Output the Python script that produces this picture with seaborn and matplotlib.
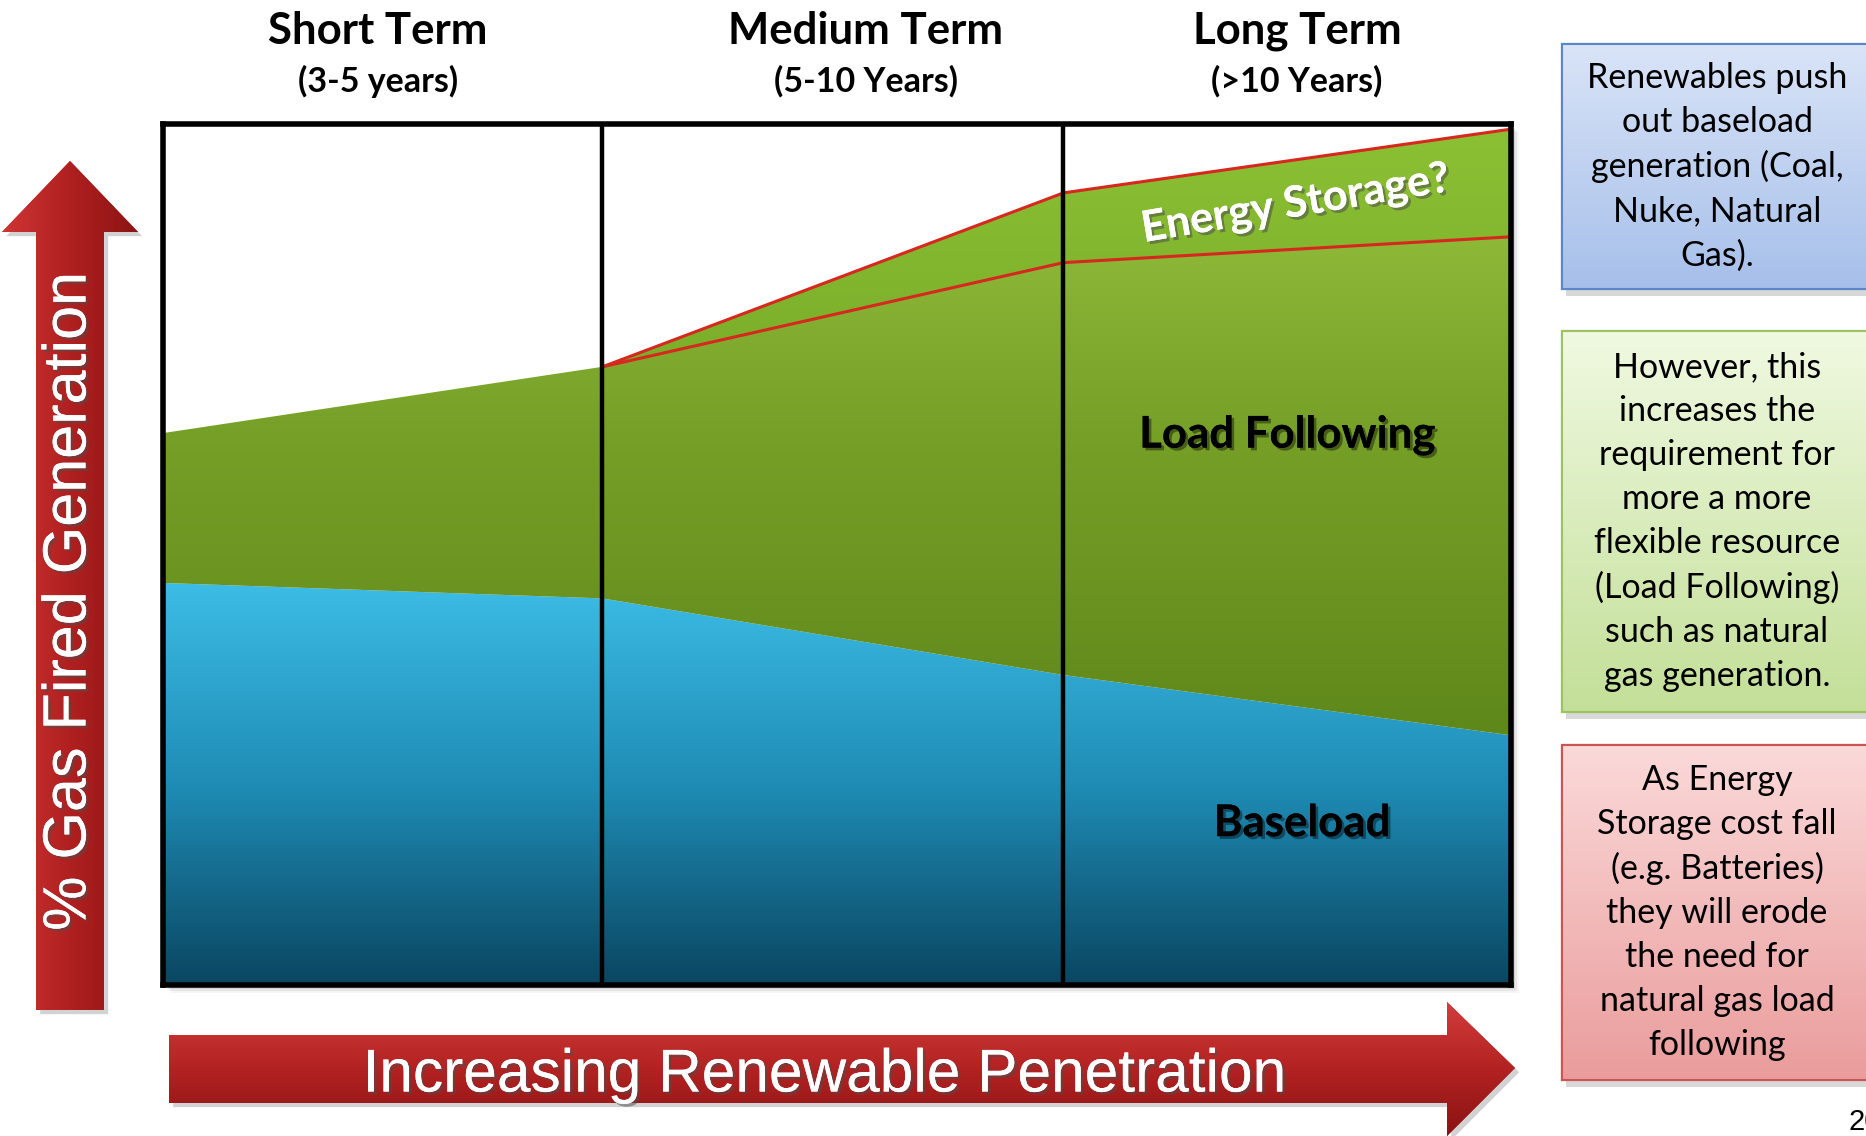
import numpy as np
import pandas as pd
import matplotlib
matplotlib.use("Agg")
import matplotlib.pyplot as plt
import seaborn as sns
from matplotlib.colors import LinearSegmentedColormap
from matplotlib.patches import Polygon, Rectangle
import matplotlib.patheffects as pe

# ---------------------------------------------------------------- data
# renewable penetration index at the stage boundaries (0 = today, 100 = long term)
penetration = [0, 32.6, 66.8, 100]
# upper edge of each band, as % of gas-fired generation
baseload = [46.7, 44.9, 36.0, 29.0]
load_following = [64.1, 71.8, 83.9, 86.9]
energy_storage = [64.1, 71.8, 92.0, 99.4]

stage_titles = ["Short Term", "Medium Term", "Long Term"]
stage_spans = ["(3-5 years)", "(5-10 Years)", "(>10 Years)"]

band_labels = ["Baseload", "Load Following", "Energy Storage?"]

note_texts = [
    "Renewables push\nout baseload\ngeneration (Coal,\nNuke, Natural\nGas).",
    "However, this\nincreases the\nrequirement for\nmore a more\nflexible resource\n(Load Following)\nsuch as natural\ngas generation.",
    "As Energy\nStorage cost fall\n(e.g. Batteries)\nthey will erode\nthe need for\nnatural gas load\nfollowing",
]
y_axis_label = "% Gas Fired Generation"
x_axis_label = "Increasing Renewable Penetration"
page_number = "20"

# ---------------------------------------------------------------- style
sns.set_theme(style="white")
plt.rcParams["font.family"] = ["Lato", "DejaVu Sans"]

W, H = 1866, 1136
fig = plt.figure(figsize=(W / 100, H / 100), dpi=100)
fig.patch.set_facecolor("white")

# overlay in pixel units for arrows, headers and side notes
ov = fig.add_axes([0, 0, 1, 1], zorder=0)
ov.set_axis_off()


def cmap_of(colors):
    return LinearSegmentedColormap.from_list("g", colors)


def gradient_in_patch(axo, patch, colors, extent, horizontal=False, z=1):
    axo.add_patch(patch)
    g = np.linspace(0, 1, 256)
    arr = g.reshape(1, -1) if horizontal else g.reshape(-1, 1)
    im = axo.imshow(arr, cmap=cmap_of(colors), extent=extent, aspect="auto",
                    origin="lower", interpolation="bicubic", zorder=z + 0.1)
    im.set_clip_path(patch)
    return im


# chart frame placement (pixels)
L, R, T, B = 163, 1511, 124, 985

# soft shadow behind the chart frame
for i, a in enumerate([0.10, 0.08, 0.06, 0.04]):
    d = 2 + i * 2
    ov.add_patch(Rectangle((L + d, T + d), R - L, B - T, facecolor="black",
                           alpha=a, lw=0, zorder=0.2))

# left arrow: % gas fired generation
cx = 70
left_arrow = Polygon([(cx, 161), (cx + 68, 232), (cx + 34, 232), (cx + 34, 1010),
                      (cx - 34, 1010), (cx - 34, 232), (cx - 68, 232)],
                     closed=True, facecolor="#a81c1c", edgecolor="none", zorder=1,
                     path_effects=[pe.withSimplePatchShadow(offset=(3, -3), alpha=0.35,
                                                            shadow_rgbFace="gray")])
gradient_in_patch(ov, left_arrow, ["#cf3535", "#b02020", "#8c1414"],
                  [cx - 68, cx + 68, 0, H], horizontal=True, z=1)
ov.text(cx, 601, y_axis_label, rotation=90, ha="center", va="center",
        color="white", fontsize=44, family=["Liberation Sans", "DejaVu Sans"], zorder=3,
        path_effects=[pe.withSimplePatchShadow(offset=(2, -2), alpha=0.5),
                      pe.Normal()])

# bottom arrow: increasing renewable penetration
bottom_arrow = Polygon([(169, 1035), (1447, 1035), (1447, 1002), (1515, 1068),
                        (1447, 1136), (1447, 1103), (169, 1103)],
                       closed=True, facecolor="#a81c1c", edgecolor="none", zorder=1,
                       path_effects=[pe.withSimplePatchShadow(offset=(3, -3), alpha=0.35,
                                                              shadow_rgbFace="gray")])
gradient_in_patch(ov, bottom_arrow, ["#d23c3c", "#b32222", "#8a1313"],
                  [0, W, 1002, 1136], z=1)
ov.text(824, 1076, x_axis_label, ha="center", va="center", color="white",
        fontsize=43.5, family=["Liberation Sans", "DejaVu Sans"], zorder=3,
        path_effects=[pe.withSimplePatchShadow(offset=(2, -2), alpha=0.5),
                      pe.Normal()])

# stage headers
header_x = [378, 866, 1297]
for x, t, s in zip(header_x, stage_titles, stage_spans):
    ov.text(x, 31, t, ha="center", va="center", fontsize=31.5, fontweight="bold",
            color="black")
    ov.text(x, 81, s, ha="center", va="center", fontsize=24.5, fontweight="bold",
            color="black")

# side notes
note_boxes = [(44, 289), (331, 712), (745, 1080)]
note_fill = [["#d9e4f7", "#a6bfea"], ["#f0f9e1", "#c3df98"], ["#fbd9d9", "#ea9c9c"]]
note_edge = ["#5b86c9", "#9cc35f", "#cc5452"]
for (y0, y1), fills, edge, txt in zip(note_boxes, note_fill, note_edge, note_texts):
    box = Rectangle((1562, y0), 330, y1 - y0, facecolor=fills[1], edgecolor=edge,
                    lw=1.5, zorder=1,
                    path_effects=[pe.withSimplePatchShadow(offset=(3, -5), alpha=0.3,
                                                           shadow_rgbFace="gray"),
                                  pe.Normal()])
    gradient_in_patch(ov, box, fills, [1562, 1892, y0, y1], z=1)
    ov.add_patch(Rectangle((1562, y0), 330, y1 - y0, facecolor="none",
                           edgecolor=edge, lw=1.5, zorder=2))
    ov.text(1717, (y0 + y1) / 2, txt, ha="center", va="center", fontsize=24.5,
            linespacing=1.46, color="black", zorder=3)

ov.text(1848, 1122, page_number, ha="left", va="center", fontsize=21,
        color="black", family=["Liberation Sans", "DejaVu Sans"])

ov.set_xlim(0, W)
ov.set_ylim(H, 0)

# ---------------------------------------------------------------- main chart
ax = fig.add_axes([L / W, 1 - B / H, (R - L) / W, (B - T) / H], zorder=1)
ax.set_facecolor("white")

x = np.array(penetration)
base = np.array(baseload)
load = np.array(load_following)
store = np.array(energy_storage)


def band(ax, y_lo, y_hi, colors, grad_lo, grad_hi, z):
    poly = ax.fill_between(x, y_lo, y_hi, color="none", lw=0, zorder=z)
    g = np.linspace(0, 1, 256).reshape(-1, 1)
    im = ax.imshow(g, cmap=cmap_of(colors), extent=[0, 100, grad_lo, grad_hi],
                   origin="lower", aspect="auto", interpolation="bicubic", zorder=z)
    im.set_clip_path(poly.get_paths()[0], transform=ax.transData)


band(ax, np.zeros_like(base), base, ["#0a4661", "#1f8db6", "#3dbde6"], 0, 47, 1)
band(ax, base, load, ["#5f881b", "#77a028", "#9ac741"], 29, 100, 1)
band(ax, load, store, ["#76aa28", "#8cc034"], 64, 100, 1)

# red outlines of the energy storage wedge
wedge = pd.DataFrame({
    "penetration": penetration[1:] * 2,
    "level": load_following[1:] + energy_storage[1:],
    "edge": ["lower"] * 3 + ["upper"] * 3,
})
sns.lineplot(data=wedge, x="penetration", y="level", hue="edge",
             palette={"lower": "#d6281f", "upper": "#d6281f"}, lw=2.2,
             legend=False, ax=ax, zorder=4)

# stage dividers
for xb in penetration[1:3]:
    ax.axvline(xb, color="black", lw=3.2, zorder=5)

shadow_dark = [pe.withSimplePatchShadow(offset=(2, -2), alpha=0.4), pe.Normal()]
ax.text(84.5, 18.8, band_labels[0], ha="center", va="center", fontsize=31.5,
        fontweight="bold", color="black", zorder=6, path_effects=shadow_dark)
ax.text(83.4, 63.9, band_labels[1], ha="center", va="center", fontsize=31.5,
        fontweight="bold", color="black", zorder=6, path_effects=shadow_dark)
ax.text(84.0, 90.7, band_labels[2], ha="center", va="center", fontsize=31,
        fontweight="bold", color="white", rotation=9.5, zorder=6,
        path_effects=[pe.withSimplePatchShadow(offset=(2, -2), alpha=0.55),
                      pe.Normal()])

ax.set_xlim(0, 100)
ax.set_ylim(0, 100)
ax.set_xlabel("")
ax.set_ylabel("")
ax.set_xticks([])
ax.set_yticks([])
for sp in ax.spines.values():
    sp.set_visible(True)
    sp.set_color("black")
    sp.set_linewidth(4)
    sp.set_zorder(7)

fig.savefig("out.png", dpi=100, facecolor="white")
